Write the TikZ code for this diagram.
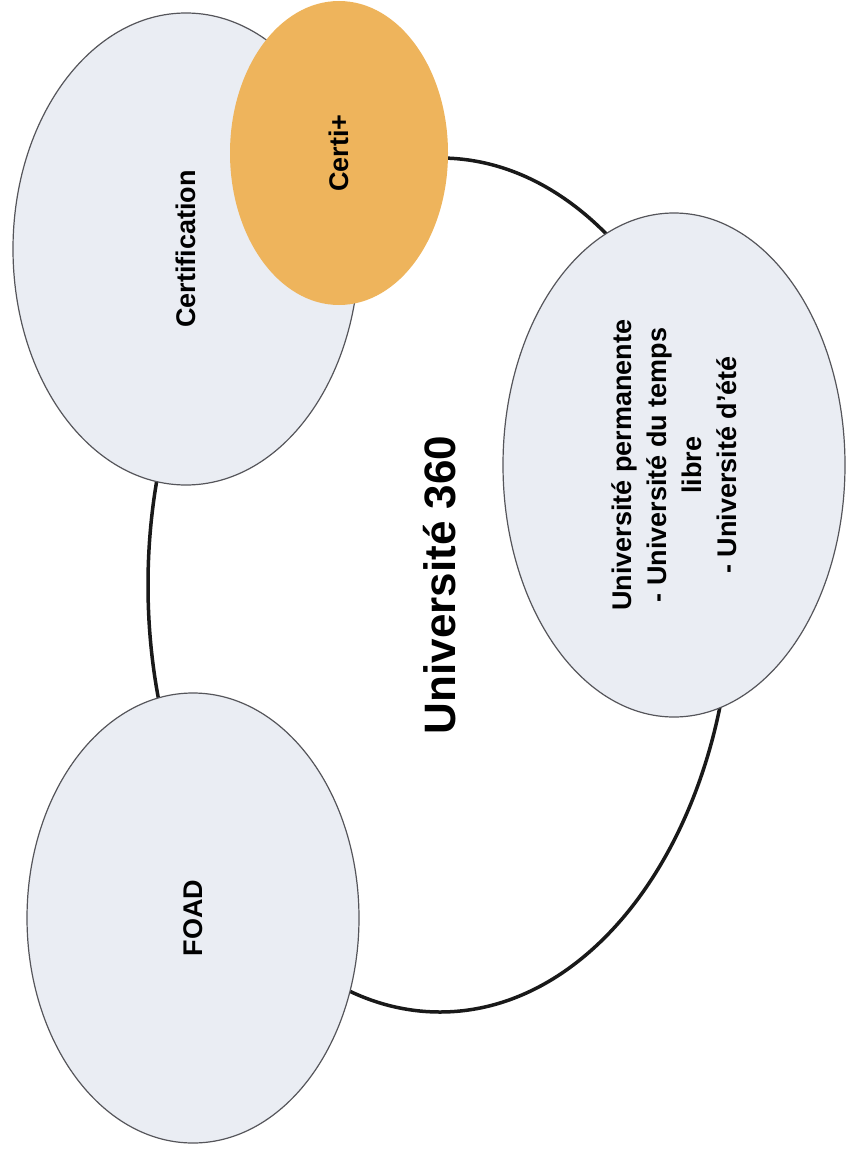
\documentclass[tikz,border=0pt]{standalone}
\usepackage{fontspec}
\setmainfont{Liberation Sans}
\usetikzlibrary{shapes.geometric}

\definecolor{bubblefill}{RGB}{234,237,243}
\definecolor{bubbleline}{RGB}{85,85,90}
\definecolor{certifill}{RGB}{238,180,92}

\tikzset{
  ring/.style={ellipse, draw=black!90, line width=3.5pt, inner sep=0pt, rotate=90},
  bubble/.style={ellipse, draw=bubbleline, line width=1.2pt, fill=bubblefill, inner sep=0pt,
    rotate=90, align=center, font=\fontsize{27}{35}\selectfont\bfseries},
}

\begin{document}
\begin{tikzpicture}[x=1pt,y=-1pt]
\useasboundingbox (0,0) rectangle (846,1153);
\node [ring, minimum width=854pt, minimum height=584pt, font=\fontsize{44}{50}\selectfont\bfseries] (U360) at (440,585) {Université 360};
\node [bubble, minimum width=472pt, minimum height=346pt] (Cert) at (186,249) {Certification};
\node [bubble, draw=none, fill=certifill, minimum width=304pt, minimum height=218pt] (CertP) at (339,153) {Certi+};
\node [bubble, minimum width=504pt, minimum height=342pt] (UPerm) at (674,465) {Université permanente\\- Université du temps\\libre\\- Université d’été};
\node [bubble, minimum width=450pt, minimum height=332pt] (FOAD) at (193,918) {FOAD};
\end{tikzpicture}
\end{document}
